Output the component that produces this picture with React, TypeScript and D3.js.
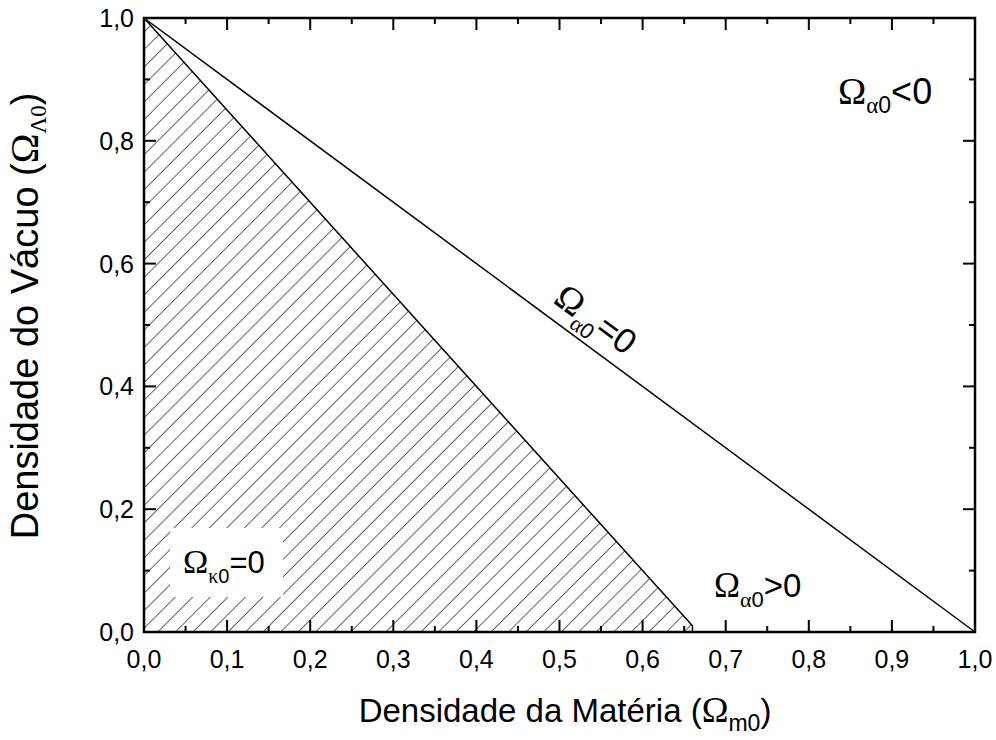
import * as d3 from "d3";

const W = 996, H = 740;
const margin = { top: 18, right: 21, bottom: 108, left: 144 };

// dados
const xMajor = [0, 0.1, 0.2, 0.3, 0.4, 0.5, 0.6, 0.7, 0.8, 0.9, 1.0];
const xMinor = [0.05, 0.15, 0.25, 0.35, 0.45, 0.55, 0.65, 0.75, 0.85, 0.95];
const xLabels = ["0,0", "0,1", "0,2", "0,3", "0,4", "0,5", "0,6", "0,7", "0,8", "0,9", "1,0"];
const yMajor = [0, 0.2, 0.4, 0.6, 0.8, 1.0];
const yMinor = [0.1, 0.3, 0.5, 0.7, 0.9];
const yLabels = ["0,0", "0,2", "0,4", "0,6", "0,8", "1,0"];

// linha Omega_alpha0 = 0  (Omega_m0 + Omega_L0 = 1)
const alphaZeroM = [0, 1];
const alphaZeroL = [1, 0];
// regiao hachurada Omega_kappa0 = 0
const kappaM = [0, 0.66, 0.66, 0];
const kappaL = [1, 0.01, 0, 0];

const SANS = "Arial, 'Liberation Sans', sans-serif";
const SERIF = "'Liberation Serif', 'Times New Roman', serif";

// rotulo com Omega + subscrito
const OmegaLabel = ({ sub, rest, om, sb, main, dy }: { sub: string; rest: string; om: number; sb: number; main: number; dy: number }) => (
  <>
    <tspan fontFamily={SERIF} fontSize={om}>Ω</tspan>
    <tspan fontFamily={SERIF} fontSize={sb} dy={dy}>{sub}</tspan>
    <tspan fontSize={sb}>0</tspan>
    <tspan fontSize={main} dy={-dy}>{rest}</tspan>
  </>
);

export default function App() {
  const x = d3.scaleLinear().domain([0, 1]).range([margin.left, W - margin.right]);
  const y = d3.scaleLinear().domain([0, 1]).range([H - margin.bottom, margin.top]);
  const x0 = x(0), x1 = x(1), y0 = y(0), y1 = y(1);

  const line = d3.line<number>().x((d, i) => x(alphaZeroM[i])).y((d, i) => y(alphaZeroL[i]));
  const alphaPath = line(alphaZeroM)!;
  const kappaPts: [number, number][] = kappaM.map((m, i) => [x(m), y(kappaL[i])]);
  const kappaPath = d3.line()(kappaPts)! + "Z";
  const kappaEdge = d3.line()(kappaPts.slice(0, 3))!;

  const angle = (Math.atan2(y(0) - y(1), x(1) - x(0)) * 180) / Math.PI;

  const majorLen = 12, minorLen = 6;

  return (
    <svg width={W} height={H} style={{ position: "absolute", left: 0, top: 0, background: "#fff" }}>
      <defs>
        <pattern id="hatch" patternUnits="userSpaceOnUse" width={12.4} height={12.4} patternTransform="rotate(45)">
          <line x1={0} y1={0} x2={0} y2={12.4} stroke="#222" strokeWidth={1.4} />
        </pattern>
      </defs>
      <rect width={W} height={H} fill="#fff" />

      {/* regiao hachurada */}
      <path d={kappaPath} fill="url(#hatch)" stroke="none" />
      <path d={kappaEdge} fill="none" stroke="#000" strokeWidth={1.5} />

      {/* linha alpha = 0 */}
      <path d={alphaPath} fill="none" stroke="#000" strokeWidth={1.5} />

      {/* ticks */}
      {xMajor.map((v) => (
        <g key={"xm" + v}>
          <line x1={x(v)} x2={x(v)} y1={y0} y2={y0 - majorLen} stroke="#000" strokeWidth={2} />
          <line x1={x(v)} x2={x(v)} y1={y1} y2={y1 + majorLen} stroke="#000" strokeWidth={2} />
        </g>
      ))}
      {xMinor.map((v) => (
        <g key={"xn" + v}>
          <line x1={x(v)} x2={x(v)} y1={y0} y2={y0 - minorLen} stroke="#000" strokeWidth={2} />
          <line x1={x(v)} x2={x(v)} y1={y1} y2={y1 + minorLen} stroke="#000" strokeWidth={2} />
        </g>
      ))}
      {yMajor.map((v) => (
        <g key={"ym" + v}>
          <line x1={x0} x2={x0 + majorLen} y1={y(v)} y2={y(v)} stroke="#000" strokeWidth={2} />
          <line x1={x1} x2={x1 - majorLen} y1={y(v)} y2={y(v)} stroke="#000" strokeWidth={2} />
        </g>
      ))}
      {yMinor.map((v) => (
        <g key={"yn" + v}>
          <line x1={x0} x2={x0 + minorLen} y1={y(v)} y2={y(v)} stroke="#000" strokeWidth={2} />
          <line x1={x1} x2={x1 - minorLen} y1={y(v)} y2={y(v)} stroke="#000" strokeWidth={2} />
        </g>
      ))}

      {/* moldura */}
      <rect x={x0} y={y1} width={x1 - x0} height={y0 - y1} fill="none" stroke="#000" strokeWidth={2.5} />

      {/* rotulos dos ticks */}
      {xMajor.map((v, i) => (
        <text key={"xl" + v} x={x(v)} y={y0 + 36} textAnchor="middle" fontFamily={SANS} fontSize={25}>
          {xLabels[i]}
        </text>
      ))}
      {yMajor.map((v, i) => (
        <text key={"yl" + v} x={x0 - 10} y={y(v) + 9} textAnchor="end" fontFamily={SANS} fontSize={25}>
          {yLabels[i]}
        </text>
      ))}

      {/* titulos dos eixos */}
      <text x={565} y={722} textAnchor="middle" fontFamily={SANS} fontSize={33}>
        Densidade da Matéria (<tspan fontFamily={SERIF} fontSize={36}>Ω</tspan>
        <tspan fontSize={23} dy={9}>m0</tspan>
        <tspan dy={-9}>)</tspan>
      </text>
      <text transform={`translate(38,316) rotate(-90)`} textAnchor="middle" fontFamily={SANS} fontSize={38}>
        Densidade do Vácuo (<tspan fontFamily={SERIF} fontSize={40}>Ω</tspan>
        <tspan fontFamily={SERIF} fontSize={23} dy={8}>Λ0</tspan>
        <tspan dy={-8}>)</tspan>
      </text>

      {/* anotacoes */}
      <text x={838} y={104} fontFamily={SANS} fontSize={36}>
        <OmegaLabel sub="α" rest="<0" om={38} sb={23} main={36} dy={9} />
      </text>
      <text x={714} y={597} fontFamily={SANS} fontSize={33}>
        <OmegaLabel sub="α" rest=">0" om={35} sb={22} main={33} dy={10} />
      </text>

      <rect x={170} y={528} width={113} height={69} fill="#fff" />
      <text x={183} y={573} fontFamily={SANS} fontSize={31}>
        <OmegaLabel sub="κ" rest="=0" om={34} sb={20} main={31} dy={10} />
      </text>

      <text transform={`translate(552,302) rotate(${angle})`} fontFamily={SANS} fontSize={35}>
        <OmegaLabel sub="α" rest="=0" om={37} sb={22} main={35} dy={10} />
      </text>
    </svg>
  );
}
